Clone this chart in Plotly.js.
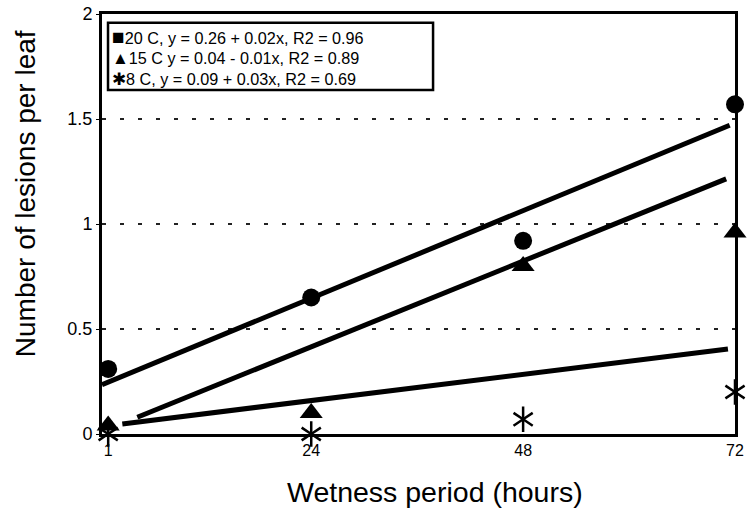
<!DOCTYPE html>
<html><head><meta charset="utf-8">
<script src="https://cdn.plot.ly/plotly-3.0.1.min.js"></script>
<style>body{margin:0;background:#fff}#c{width:748px;height:510px}</style>
</head><body><div id="c"></div>
<script>
const hours = [1, 24, 48, 72];
const lesions20 = [0.31, 0.65, 0.92, 1.57];
const lesions15 = [0.04, 0.10, 0.80, 0.96];
const lesions8 = [0.00, 0.00, 0.07, 0.20];
// fitted regression line endpoints as drawn
const fit20X = [0.3, 71.4], fit20Y = [0.235, 1.47];
const fit15X = [4.3, 71.0], fit15Y = [0.08, 1.215];
const fit8X = [2.6, 71.2], fit8Y = [0.048, 0.405];
const legendLabels = [
  "20 C, y = 0.26 + 0.02x, R2 = 0.96",
  "15 C y = 0.04 - 0.01x, R2 = 0.89",
  "8 C, y = 0.09 + 0.03x, R2 = 0.69"
];
const legendSymbols = ["\u25A0", "\u25B2", "\u2731"];
const symbolSizes = [21, 17, 17];
const tickVals = [1, 24, 48, 72];
const yTicks = [0, 0.5, 1, 1.5, 2];
const xTitle = 'Wetness period (hours)';
const yTitle = 'Number of lesions per leaf';

const FONT = 'Liberation Sans, Arial, Helvetica, sans-serif';
const lineStyle = {color: '#000', width: 5};
const traces = [
  {x: fit20X, y: fit20Y, mode: 'lines', line: lineStyle, cliponaxis: false},
  {x: fit15X, y: fit15Y, mode: 'lines', line: lineStyle, cliponaxis: false},
  {x: fit8X, y: fit8Y, mode: 'lines', line: lineStyle, cliponaxis: false},
  {x: hours, y: lesions20, mode: 'markers', marker: {symbol: 'circle', size: 18, color: '#000'}, cliponaxis: false},
  {x: hours, y: lesions15, mode: 'markers', marker: {symbol: 'triangle-up', size: 20, color: '#000'}, cliponaxis: false},
  {x: hours, y: lesions8, mode: 'markers', marker: {symbol: 'y-up-open', size: 16, color: '#000', line: {color: '#000', width: 2.5}}, cliponaxis: false},
  {x: hours, y: lesions8, mode: 'markers', marker: {symbol: 'y-down-open', size: 16, color: '#000', line: {color: '#000', width: 2.5}}, cliponaxis: false}
];

// legend box geometry (paper coords)
const lgX0 = 0.0095, lgX1 = 0.523, lgY0 = 0.819, lgY1 = 0.979;
const rowY = [0.9476, 0.8952, 0.8429];
const annotations = legendLabels.map((t, i) => ({
  xref: 'paper', yref: 'paper', x: 0.0125, y: rowY[i], xanchor: 'left', yanchor: 'middle',
  text: '<span style="font-size:' + symbolSizes[i] + 'px">' + legendSymbols[i] + '</span>' + t,
  showarrow: false, font: {family: FONT, size: 16.2, color: '#000'}
}));
annotations.push({
  xref: 'paper', yref: 'paper', x: -0.1216, y: 0.571, xanchor: 'center', yanchor: 'middle',
  text: yTitle, textangle: -90, showarrow: false, font: {family: FONT, size: 28, color: '#000'}
});
annotations.push({
  xref: 'paper', yref: 'paper', x: 0.526, y: -0.138, xanchor: 'center', yanchor: 'middle',
  text: xTitle, showarrow: false, font: {family: FONT, size: 28.5, color: '#000'}
});

const layout = {
  width: 748, height: 510,
  margin: {l: 102, r: 13, t: 14, b: 76},
  paper_bgcolor: '#fff', plot_bgcolor: '#fff',
  font: {family: FONT, color: '#000'},
  showlegend: false,
  xaxis: {
    range: [0.3, 72], tickvals: tickVals, ticktext: tickVals.map(String),
    showgrid: false, zeroline: false,
    showline: true, linecolor: '#000', linewidth: 3, mirror: true,
    ticks: '', tickfont: {size: 16, color: '#000'}
  },
  yaxis: {
    range: [0, 2], tickvals: yTicks, ticktext: ['0', '0.5', '1', '1.5', '2'],
    showgrid: true, gridcolor: '#222', gridwidth: 1.2, griddash: '4px,14px',
    zeroline: false,
    showline: true, linecolor: '#000', linewidth: 3, mirror: true,
    ticks: 'outside', ticklen: 3, tickcolor: '#000', tickwidth: 1,
    tickfont: {size: 18, color: '#000'}
  },
  shapes: [{
    type: 'rect', xref: 'paper', yref: 'paper', x0: lgX0, x1: lgX1, y0: lgY0, y1: lgY1,
    line: {color: '#000', width: 2.5}, fillcolor: '#fff', layer: 'above'
  }],
  annotations: annotations
};
Plotly.newPlot('c', traces, layout, {displayModeBar: false, staticPlot: true});
</script></body></html>
